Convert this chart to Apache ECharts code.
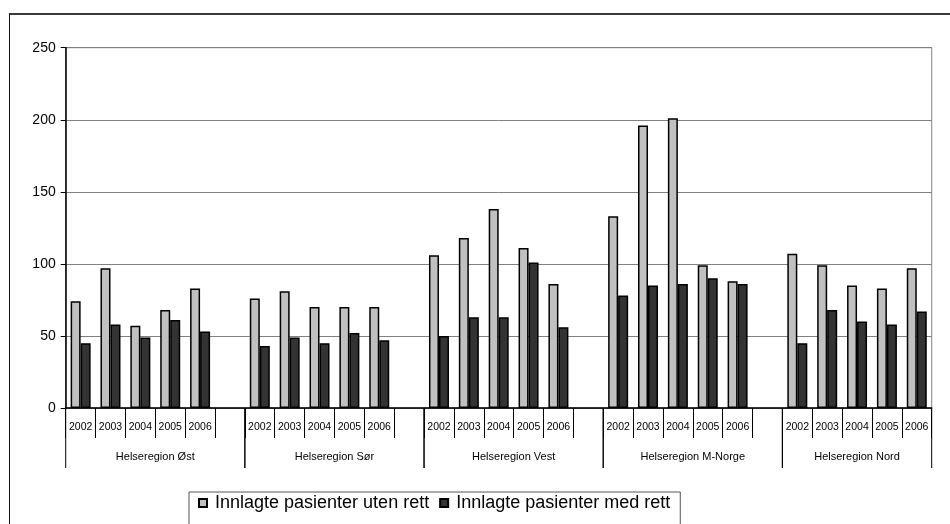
<!DOCTYPE html>
<html>
<head>
<meta charset="utf-8">
<script src="https://cdn.jsdelivr.net/npm/echarts@6/dist/echarts.min.js"></script>
<style>
html,body{margin:0;padding:0;background:#fff;}
#wrap{position:relative;width:950px;height:524px;overflow:hidden;}
#chart{position:absolute;left:0;top:0;width:950px;height:524px;}
#frame{position:absolute;left:9px;top:13px;width:1000px;height:600px;border-top:2px solid #3a3a3a;border-left:1px solid #111;pointer-events:none;}
</style>
</head>
<body>
<div id="wrap"><div id="chart"></div><div id="frame"></div></div>
<script>
// ---- data ----
var regions = ['Helseregion Øst', 'Helseregion Sør', 'Helseregion Vest', 'Helseregion M-Norge', 'Helseregion Nord'];
var years = ['2002', '2003', '2004', '2005', '2006'];
var seriesNames = ['Innlagte pasienter uten rett', 'Innlagte pasienter med rett'];
// values per region, years 2002..2006
var utenRett = [
  [74, 97, 57, 68, 83],
  [76, 81, 70, 70, 70],
  [106, 118, 138, 111, 86],
  [133, 196, 201, 99, 88],
  [107, 99, 85, 83, 97]
];
var medRett = [
  [45, 58, 49, 61, 53],
  [43, 49, 45, 52, 47],
  [50, 63, 63, 101, 56],
  [78, 85, 86, 90, 86],
  [45, 68, 60, 58, 67]
];
var yTicks = {min: 0, max: 250, interval: 50};

// ---- build categories (a blank spacer slot after each region except the last) ----
var cats = [], d1 = [], d2 = [], brackets = [];
regions.forEach(function (r, ri) {
  var start = cats.length;
  years.forEach(function (y, yi) {
    cats.push(y);
    d1.push(utenRett[ri][yi]);
    d2.push(medRett[ri][yi]);
  });
  if (ri < regions.length - 1) { cats.push(''); d1.push('-'); d2.push('-'); }
  brackets.push({name: r, value: [start, cats.length - 1, 0]});
});

var chart = echarts.init(document.getElementById('chart'), null, {renderer: 'canvas'});
var font = 'Arial, "Liberation Sans", sans-serif';
chart.setOption({
  animation: false,
  backgroundColor: '#fff',
  grid: {left: 65.7, top: 47.7, right: 18.3, bottom: 116, show: true, borderColor: '#808080', borderWidth: 1, backgroundColor: '#fff'},
  legend: {
    data: seriesNames,
    left: 189, top: 492,
    padding: [2, 10, 30, 9],
    itemGap: 10,
    itemWidth: 8, itemHeight: 8,
    icon: 'rect',
    borderColor: '#555', borderWidth: 1,
    textStyle: {fontFamily: font, fontSize: 18, color: '#000', padding: [0, 0, 0, 3]}
  },
  xAxis: {
    type: 'category',
    data: cats,
    boundaryGap: true,
    axisLine: {show: true, onZero: true, lineStyle: {color: '#000', width: 1.5}},
    axisTick: {show: true, interval: 0, length: 30, alignWithLabel: false, lineStyle: {color: '#000', width: 1}},
    axisLabel: {interval: 0, margin: 14, fontFamily: font, fontSize: 10.5, color: '#000'},
    splitLine: {show: false}
  },
  yAxis: {
    type: 'value',
    min: yTicks.min, max: yTicks.max, interval: yTicks.interval,
    axisLine: {show: true, lineStyle: {color: '#000', width: 1.5}},
    axisTick: {show: true, length: 5, lineStyle: {color: '#000'}},
    axisLabel: {margin: 10, fontFamily: font, fontSize: 14, color: '#000'},
    splitLine: {show: true, lineStyle: {color: '#808080', width: 1}}
  },
  series: [
    {
      name: seriesNames[0], type: 'bar', data: d1, barWidth: 10, barGap: '0%',
      itemStyle: {color: '#C0C0C0', borderColor: '#000', borderWidth: 1.5}
    },
    {
      name: seriesNames[1], type: 'bar', data: d2, barWidth: 10,
      itemStyle: {color: '#333333', borderColor: '#000', borderWidth: 1.5}
    },
    {
      type: 'custom', silent: true, clip: false, data: brackets,
      encode: {x: [0, 1], y: 2},
      renderItem: function (params, api) {
        var s = api.value(0), e = api.value(1);
        var p0 = api.coord([s, 0]), p1 = api.coord([e, 0]);
        var bw = api.size([1, 0])[0];
        var xl = p0[0] - bw / 2, xr = p1[0] + bw / 2, y0 = p0[1];
        var name = brackets[params.dataIndex].name;
        return {
          type: 'group',
          children: [
            {type: 'line', shape: {x1: xl, y1: y0, x2: xl, y2: y0 + 60}, style: {stroke: '#000', lineWidth: 1}},
            {type: 'line', shape: {x1: xr, y1: y0, x2: xr, y2: y0 + 60}, style: {stroke: '#000', lineWidth: 1}},
            {type: 'text', x: (xl + xr) / 2, y: y0 + 49,
              style: {text: name, align: 'center', verticalAlign: 'middle', fontFamily: font, fontSize: 11, fill: '#000'}}
          ]
        };
      }
    }
  ]
});
</script>
</body>
</html>
